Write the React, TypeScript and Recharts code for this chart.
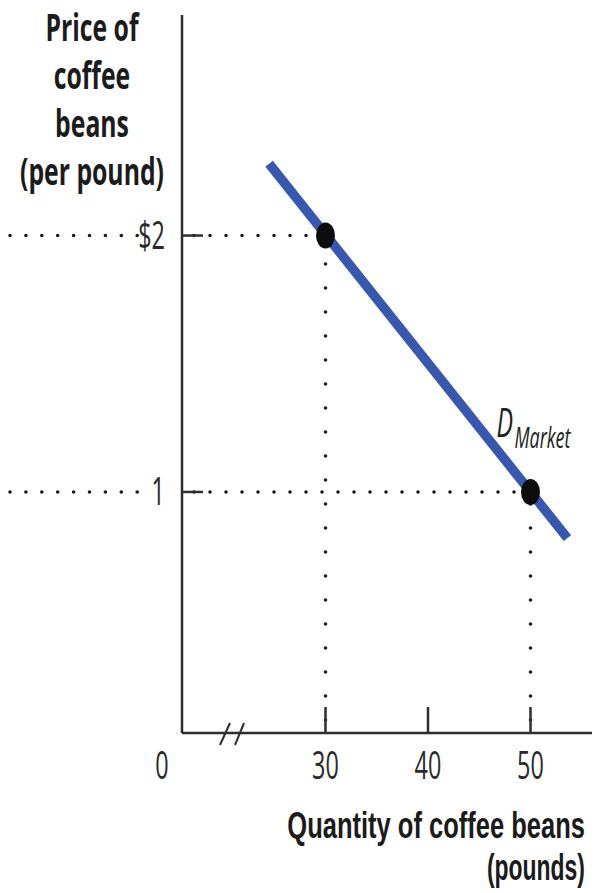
import React from 'react';
import {
  ComposedChart,
  XAxis,
  YAxis,
  Line,
  Scatter,
  ReferenceLine,
  ReferenceDot,
} from 'recharts';

// Quantity axis (pounds); the origin is shown as 0 behind an axis break
const quantityDomain = [16, 56];
const quantityTicks = [16, 30, 40, 50];
const quantityTickLabels = ['0', '30', '40', '50'];

// Price axis (per pound)
const priceDomain = [0.06, 2.86];
const priceTicks = [1, 2];
const priceTickLabels = ['1', '$2'];

// Market demand curve end points
const demandQuantity = [24.5, 53.6];
const demandPrice = [2.28, 0.82];

// Highlighted price/quantity combinations on the curve
const marketQuantity = [30, 50];
const marketPrice = [2, 1];

const demandData = demandQuantity.map((q, i) => ({ q, p: demandPrice[i] }));
const marketData = marketQuantity.map((q, i) => ({ q, p: marketPrice[i] }));

const FONT = "'Open Sans', 'Noto Sans', 'DejaVu Sans', sans-serif";
const TIGHT_FONT = "'Liberation Sans', Arial, sans-serif";
const INK = '#1b1b1b';
const AXIS = '#2e2e2e';
const CURVE = '#3858b0';
const DOT_W = 3.6;
const AXIS_W = 2.5;

type SqueezedProps = {
  x: number;
  y: number;
  sx: number;
  size: number;
  weight?: number;
  italic?: boolean;
  anchor?: 'start' | 'middle' | 'end';
  fill?: string;
  family?: string;
  children: React.ReactNode;
};

// Narrow-set text: the glyphs are compressed horizontally around the anchor
function Squeezed({
  x,
  y,
  sx,
  size,
  weight = 400,
  italic = false,
  anchor = 'start',
  fill = INK,
  family = FONT,
  children,
}: SqueezedProps) {
  return (
    <text
      transform={`translate(${x},${y}) scale(${sx},1)`}
      textAnchor={anchor}
      fontFamily={family}
      fontSize={size}
      fontWeight={weight}
      fontStyle={italic ? 'italic' : 'normal'}
      fill={fill}
    >
      {children}
    </text>
  );
}

function QuantityTick(props: any) {
  const { x, y, payload } = props;
  const label = quantityTickLabels[quantityTicks.indexOf(payload.value)];
  if (payload.value === quantityDomain[0]) {
    return (
      <g>
        <Squeezed x={x - 20} y={y + 46} sx={0.6} size={39} anchor="middle" fill="#2a2a2a">
          {label}
        </Squeezed>
        <line x1={x + 38} y1={y + 12} x2={x + 48} y2={y - 10} stroke={AXIS} strokeWidth={2} />
        <line x1={x + 53} y1={y + 12} x2={x + 62} y2={y - 10} stroke={AXIS} strokeWidth={2} />
      </g>
    );
  }
  return (
    <g>
      <line x1={x} y1={y} x2={x} y2={y - 26} stroke={AXIS} strokeWidth={AXIS_W} />
      <Squeezed x={x} y={y + 46} sx={0.6} size={39} anchor="middle" fill="#2a2a2a">
        {label}
      </Squeezed>
    </g>
  );
}

function PriceTick(props: any) {
  const { x, y, payload } = props;
  const label = priceTickLabels[priceTicks.indexOf(payload.value)];
  return (
    <g>
      <line
        x1={10}
        y1={y}
        x2={x - 44}
        y2={y}
        stroke={INK}
        strokeWidth={DOT_W}
        strokeLinecap="round"
        strokeDasharray="0 15.9"
      />
      <Squeezed x={x - 17} y={y + 13.5} sx={0.6} size={39} anchor="end" fill="#2a2a2a">
        {label}
      </Squeezed>
      <line x1={x} y1={y} x2={x + 21} y2={y} stroke={AXIS} strokeWidth={AXIS_W} />
    </g>
  );
}

function PriceTitle(props: any) {
  const { viewBox } = props;
  const cx = viewBox.x + 92;
  const top = viewBox.y;
  const lines = ['Price of', 'coffee', 'beans', '(per pound)'];
  return (
    <g>
      {lines.map((t, i) => (
        <Squeezed key={t} x={cx} y={top + 26 + i * 48} sx={0.66} size={37.5} weight={700} anchor="middle">
          {t}
        </Squeezed>
      ))}
    </g>
  );
}

function QuantityTitle(props: any) {
  const { viewBox } = props;
  const right = viewBox.x + viewBox.width - 7;
  return (
    <g>
      <Squeezed x={right} y={viewBox.y + 105} sx={0.69} size={37} weight={700} anchor="end" family={TIGHT_FONT}>
        Quantity of coffee beans
      </Squeezed>
      <Squeezed x={right} y={viewBox.y + 147} sx={0.62} size={37} weight={700} anchor="end" family={TIGHT_FONT}>
        (pounds)
      </Squeezed>
    </g>
  );
}

function DemandLabel(props: any) {
  const { viewBox } = props;
  const x = viewBox.x - 34;
  const y = viewBox.y - 55;
  return (
    <g>
      <Squeezed x={x} y={y} sx={0.62} size={40} italic anchor="start" fill="#222">
        D
      </Squeezed>
      <Squeezed x={x + 18} y={y + 11} sx={0.6} size={30} italic anchor="start" fill="#222">
        Market
      </Squeezed>
    </g>
  );
}

function MarketPoint(props: any) {
  const { cx, cy } = props;
  return <ellipse cx={cx} cy={cy} rx={9.5} ry={13} fill="#0d0d0d" />;
}

export default function App() {
  return (
    <div style={{ position: 'absolute', left: 0, top: 0, background: '#fff' }}>
      <ComposedChart width={601} height={893} margin={{ top: 15, right: 9, bottom: 0, left: 0 }}>
        <XAxis
          type="number"
          dataKey="q"
          domain={quantityDomain}
          ticks={quantityTicks}
          interval={0}
          allowDataOverflow
          height={160}
          tickSize={0}
          tickMargin={0}
          tickLine={false}
          axisLine={{ stroke: AXIS, strokeWidth: AXIS_W }}
          tick={(p: any) => <QuantityTick {...p} />}
          label={(p: any) => <QuantityTitle {...p} />}
        />
        <YAxis
          type="number"
          dataKey="p"
          domain={priceDomain}
          ticks={priceTicks}
          interval={0}
          allowDataOverflow
          width={182}
          tickSize={0}
          tickMargin={0}
          tickLine={false}
          axisLine={{ stroke: AXIS, strokeWidth: AXIS_W }}
          tick={(p: any) => <PriceTick {...p} />}
          label={(p: any) => <PriceTitle {...p} />}
        />
        {marketData.map((d) => (
          <ReferenceLine
            key={`h-${d.q}`}
            segment={[
              { x: quantityDomain[0], y: d.p },
              { x: d.q, y: d.p },
            ]}
            stroke={INK}
            strokeWidth={DOT_W}
            strokeLinecap="round"
            strokeDasharray="0 16"
            strokeDashoffset={4}
          />
        ))}
        {marketData.map((d) => (
          <ReferenceLine
            key={`v-${d.q}`}
            segment={[
              { x: d.q, y: priceDomain[0] },
              { x: d.q, y: d.p },
            ]}
            stroke={INK}
            strokeWidth={DOT_W}
            strokeLinecap="round"
            strokeDasharray="0 24"
            strokeDashoffset={11}
          />
        ))}
        <Line
          data={demandData}
          dataKey="p"
          type="linear"
          stroke={CURVE}
          strokeWidth={9.5}
          strokeLinecap="butt"
          dot={false}
          activeDot={false}
          isAnimationActive={false}
        />
        <Scatter data={marketData} dataKey="p" shape={(p: any) => <MarketPoint {...p} />} isAnimationActive={false} />
        <ReferenceDot
          x={marketQuantity[1]}
          y={marketPrice[1]}
          r={0}
          stroke="none"
          fill="none"
          label={(p: any) => <DemandLabel {...p} />}
        />
      </ComposedChart>
    </div>
  );
}
